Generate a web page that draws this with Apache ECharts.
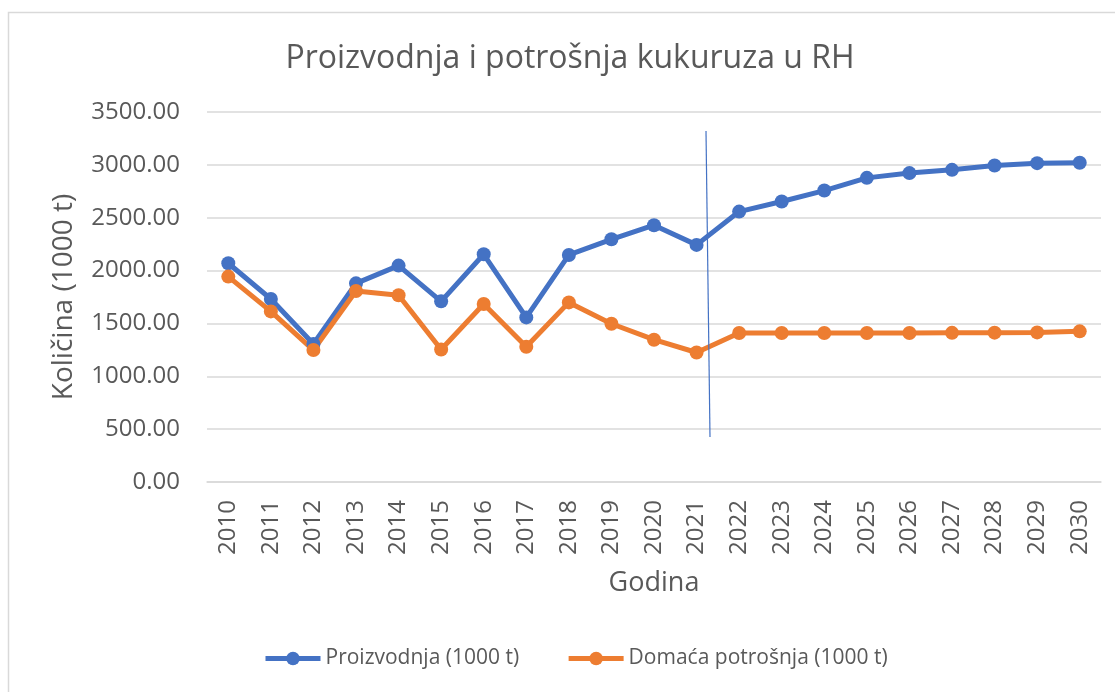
<!DOCTYPE html>
<html>
<head>
<meta charset="utf-8">
<script src="https://cdn.jsdelivr.net/npm/echarts@6/dist/echarts.min.js"></script>
<style>
  html, body { margin: 0; padding: 0; background: #fff; }
  #chart { width: 1115px; height: 692px; }
</style>
</head>
<body>
<div id="chart"></div>
<script>
var years = ["2010", "2011", "2012", "2013", "2014", "2015", "2016", "2017", "2018", "2019", "2020",
  "2021", "2022", "2023", "2024", "2025", "2026", "2027", "2028", "2029", "2030"];
var proizvodnja = [2069, 1731, 1305, 1879, 2047, 1709, 2154, 1557, 2148, 2296, 2429,
  2243, 2558, 2653, 2757, 2877, 2922, 2953, 2994, 3016, 3020];
var potrosnja = [1943, 1614, 1248, 1807, 1766, 1254, 1684, 1279, 1699, 1497, 1346,
  1225, 1409, 1409, 1409, 1409, 1409, 1411, 1413, 1415, 1425];

var font = "'Open Sans', sans-serif";
var grey = "#595959";

var chartDom = document.getElementById("chart");
var myChart = echarts.init(chartDom);
var option;

option = {
  backgroundColor: "#fff",
  animation: false,
  title: {
    text: "Proizvodnja i potrošnja kukuruza u RH",
    left: 565,
    textAlign: "center",
    top: 38,
    textStyle: { fontFamily: font, fontSize: 32, fontWeight: "normal", color: grey },
  },
  legend: {
    left: 263,
    top: 648,
    padding: 0,
    itemWidth: 55,
    itemHeight: 17,
    itemGap: 47,
    lineStyle: { width: 5 },
    textStyle: { fontFamily: font, fontSize: 21, color: grey },
    data: ["Proizvodnja (1000 t)", "Domaća potrošnja (1000 t)"],
  },
  grid: { left: 207, right: 14, top: 112, bottom: 210 },
  xAxis: {
    type: "category",
    data: years,
    boundaryGap: true,
    name: "Godina",
    nameLocation: "middle",
    nameGap: 88,
    nameTextStyle: { fontFamily: font, fontSize: 27, color: grey },
    axisLine: { lineStyle: { color: "#d9d9d9", width: 1.5 } },
    axisTick: { show: false },
    axisLabel: { rotate: 90, margin: 18, fontFamily: font, fontSize: 24, color: grey },
  },
  yAxis: {
    type: "value",
    min: 0,
    max: 3500,
    interval: 500,
    name: "Količina (1000 t)",
    nameLocation: "middle",
    nameGap: 129,
    nameTextStyle: { fontFamily: font, fontSize: 28, color: grey },
    axisLine: { show: false },
    axisTick: { show: false },
    axisLabel: {
      margin: 27,
      fontFamily: font,
      fontSize: 24,
      color: grey,
      formatter: function (v) { return v.toFixed(2); },
    },
    splitLine: { lineStyle: { color: "#d9d9d9", width: 1.5 } },
  },
  series: [
    {
      name: "Proizvodnja (1000 t)",
      type: "line",
      data: proizvodnja,
      symbol: "circle",
      symbolSize: 14,
      itemStyle: { color: "#4472C4" },
      lineStyle: { color: "#4472C4", width: 5 },
    },
    {
      name: "Domaća potrošnja (1000 t)",
      type: "line",
      data: potrosnja,
      symbol: "circle",
      symbolSize: 14,
      itemStyle: { color: "#ED7D31" },
      lineStyle: { color: "#ED7D31", width: 5 },
    },
  ],
  graphic: [
    {
      // chart frame
      type: "rect",
      shape: { x: 8.5, y: 12.5, width: 1200, height: 800 },
      style: { fill: "none", stroke: "#d9d9d9", lineWidth: 1.5 },
      silent: true,
    },
    {
      // hand drawn divider
      type: "line",
      shape: { x1: 706, y1: 131, x2: 710, y2: 437 },
      style: { stroke: "#4472C4", lineWidth: 1.2 },
      z: 10,
    },
  ],
};

option && myChart.setOption(option);
</script>
</body>
</html>
